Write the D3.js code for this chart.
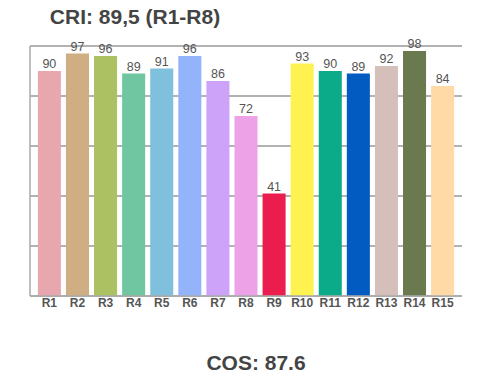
<!DOCTYPE html>
<html>
<head>
<meta charset="utf-8">
<script src="https://cdn.jsdelivr.net/npm/d3@7"></script>
<style>
body { margin: 0; background: #fff; }
text { font-family: Arial, "Liberation Sans", sans-serif; }
</style>
</head>
<body>
<svg width="500" height="370"></svg>
<script>
var categories = ["R1","R2","R3","R4","R5","R6","R7","R8","R9","R10","R11","R12","R13","R14","R15"];
var values = [90, 97, 96, 89, 91, 96, 86, 72, 41, 93, 90, 89, 92, 98, 84];
var colors = ["#e8a6ae","#ceae82","#abc162","#71c6a2","#7fc0dd","#93b4fb","#cda2f9","#eda1e7",
              "#ea1d4e","#fef251","#0bab89","#015bc1","#d5bfba","#6a7a4e","#ffd9a6"];
var yTicks = [0, 20, 40, 60, 80, 100];
var title = "CRI: 89,5 (R1-R8)";
var footer = "CQS: 87.6";

var svg = d3.select("svg");
var data = categories.map(function(c, i) { return {name: c, val: values[i], color: colors[i]}; });

var xScale = d3.scaleBand().domain(categories).range([30, 462]).paddingInner(0.18).paddingOuter(0.28);
var yScale = d3.scaleLinear().domain([0, 100]).range([296, 46]);

svg.append("text")
  .attr("x", 135)
  .attr("y", 24)
  .attr("text-anchor", "middle")
  .style("font-size", "21px")
  .style("font-weight", "bold")
  .style("fill", "#444")
  .text(title);

// gridlines
svg.append("g")
  .selectAll("line")
  .data(yTicks)
  .enter()
  .append("line")
  .attr("x1", 30)
  .attr("x2", 462)
  .attr("y1", (d)=>yScale(d))
  .attr("y2", (d)=>yScale(d))
  .style("stroke", "#999")
  .style("stroke-width", 1.3);

// left axis line
svg.append("line")
  .attr("x1", 30).attr("x2", 30)
  .attr("y1", yScale(100)).attr("y2", yScale(0))
  .style("stroke", "#aaa")
  .style("stroke-width", 1.5);

svg.selectAll(".bar")
  .data(data)
  .enter()
  .append("rect")
  .attr("class", "bar")
  .attr("x", (d)=>xScale(d.name))
  .attr("y", (d)=>yScale(d.val))
  .attr("width", xScale.bandwidth())
  .attr("height", (d)=>yScale(0) - yScale(d.val))
  .style("fill", (d)=>d.color);

// bottom axis line drawn over bars
svg.append("line")
  .attr("x1", 30).attr("x2", 462)
  .attr("y1", yScale(0)).attr("y2", yScale(0))
  .style("stroke", "#aaa")
  .style("stroke-width", 1.5);

svg.selectAll(".info")
  .data(data)
  .enter()
  .append("text")
  .attr("class", "info")
  .attr("x", (d)=>xScale(d.name) + xScale.bandwidth() / 2)
  .attr("y", (d)=>yScale(d.val) - 3)
  .attr("text-anchor", "middle")
  .style("font-size", "12.5px")
  .style("fill", "#555")
  .text((d)=>d.val);

svg.selectAll(".cat")
  .data(data)
  .enter()
  .append("text")
  .attr("class", "cat")
  .attr("x", (d)=>xScale(d.name) + xScale.bandwidth() / 2)
  .attr("y", 307)
  .attr("text-anchor", "middle")
  .style("font-size", "12px")
  .style("font-weight", "bold")
  .style("fill", "#555")
  .text((d)=>d.name);

svg.append("text")
  .attr("x", 256)
  .attr("y", 370)
  .attr("text-anchor", "middle")
  .style("font-size", "21px")
  .style("font-weight", "bold")
  .style("fill", "#444")
  .text(footer);
</script>
</body>
</html>
